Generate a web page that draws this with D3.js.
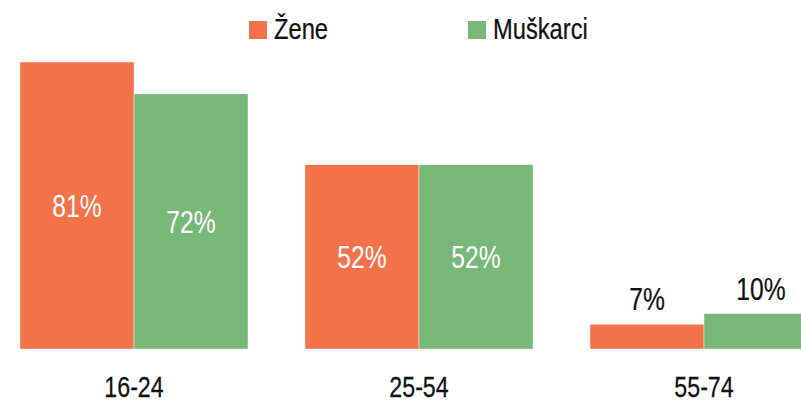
<!DOCTYPE html>
<html>
<head>
<meta charset="utf-8">
<script src="https://cdn.jsdelivr.net/npm/d3@7/dist/d3.min.js"></script>
<style>
  html, body { margin: 0; padding: 0; background: #fff; overflow: hidden; }
  svg { display: block; font-family: "Liberation Sans", Arial, sans-serif; }
</style>
</head>
<body>
<svg id="chart" width="801" height="403"></svg>
<script>
// Age groups and the share (%) for each group
const ageGroups = ["16-24", "25-54", "55-74"];
const seriesNames = ["Žene", "Muškarci"];
const zene = [81, 52, 7];
const muskarci = [72, 52, 10];
const colors = ["#F4724A", "#77B778"];

const rows = ageGroups.map((g, i) => ({ group: g, values: [zene[i], muskarci[i]] }));

const svg = d3.select("#chart");
const baseline = 349;
const squeeze = 0.77; // horizontal condensing of the text

const x0 = d3.scaleBand()
  .domain(ageGroups)
  .range([-8.5, 846.5])
  .paddingInner(0.2)
  .paddingOuter(0.1);

const x1 = d3.scaleBand()
  .domain(seriesNames)
  .range([0, x0.bandwidth()]);

const y = d3.scaleLinear()
  .domain([0, 100])
  .range([baseline, baseline - 354.3]);

const groups = svg.selectAll("g.group")
  .data(rows)
  .join("g")
  .attr("class", "group")
  .attr("transform", d => `translate(${x0(d.group)},0)`);

const cells = groups.selectAll("g.cell")
  .data(d => d.values.map((v, k) => ({ name: seriesNames[k], value: v, k })))
  .join("g")
  .attr("class", "cell");

cells.append("rect")
  .attr("x", d => x1(d.name))
  .attr("y", d => y(d.value))
  .attr("width", x1.bandwidth())
  .attr("height", d => baseline - y(d.value))
  .attr("fill", d => colors[d.k])
  .attr("stroke", "#ffffff")
  .attr("stroke-width", 0.4);

// Value labels: inside tall bars, above short ones
const inside = d => (baseline - y(d.value)) > 60;
cells.append("text")
  .attr("transform", d => {
    const cx = x1(d.name) + x1.bandwidth() / 2;
    const cy = inside(d) ? (y(d.value) + baseline) / 2 + 11.2 : y(d.value) - 14;
    return `translate(${cx},${cy}) scale(${squeeze},1)`;
  })
  .attr("text-anchor", "middle")
  .attr("font-size", 32)
  .attr("fill", d => inside(d) ? "#ffffff" : "#111111")
  .attr("stroke", d => inside(d) ? "none" : "#111111")
  .attr("stroke-width", 0.25)
  .text(d => d.value + "%");

// Category axis labels
svg.append("g")
  .selectAll("text")
  .data(ageGroups)
  .join("text")
  .attr("transform", d => `translate(${x0(d) + x0.bandwidth() / 2},397) scale(${squeeze + 0.03},1)`)
  .attr("text-anchor", "middle")
  .attr("font-size", 29)
  .attr("fill", "#111111")
  .attr("stroke", "#111111")
  .attr("stroke-width", 0.25)
  .text(d => d);

// Legend
const legendPos = [249, 468];
const legend = svg.append("g")
  .selectAll("g")
  .data(seriesNames)
  .join("g")
  .attr("transform", (d, i) => `translate(${legendPos[i]},0)`);

legend.append("rect")
  .attr("x", 0)
  .attr("y", 21)
  .attr("width", 18)
  .attr("height", 18)
  .attr("fill", (d, i) => colors[i]);

legend.append("text")
  .attr("transform", `translate(25,39) scale(${squeeze + 0.02},1)`)
  .attr("font-size", 30)
  .attr("fill", "#111111")
  .attr("stroke", "#111111")
  .attr("stroke-width", 0.25)
  .text(d => d);
</script>
</body>
</html>
